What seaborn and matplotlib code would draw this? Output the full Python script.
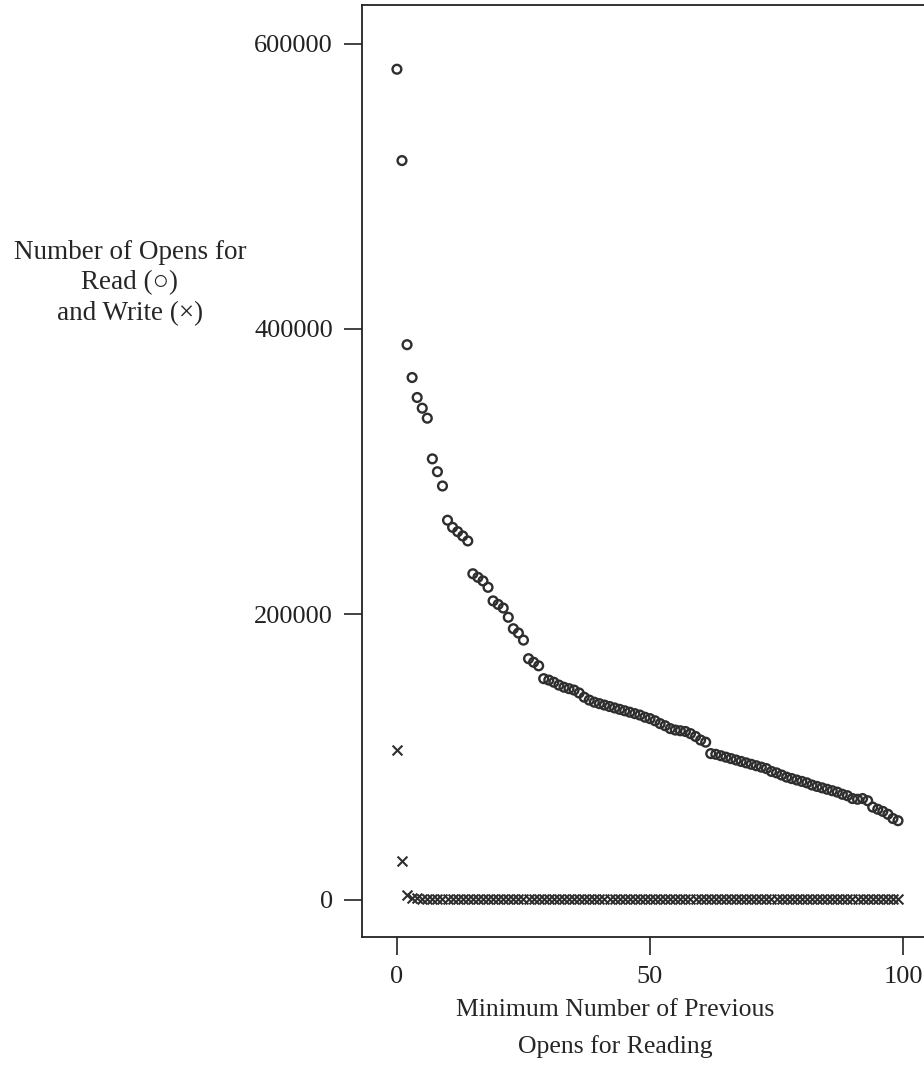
import matplotlib
matplotlib.use("Agg")
import matplotlib.pyplot as plt
import numpy as np
import pandas as pd
import seaborn as sns

# minimum number of previous opens (x)
min_prev_opens = list(range(100))

# opens for read (circles)
read_opens = [
    582000, 518000, 389000, 366000, 352000, 344500, 337500, 309000, 300000, 290000,
    266000, 261000, 258000, 255000, 251500, 228500, 226000, 223500, 219000, 209500,
    207000, 204500, 198000, 190000, 187000, 182000, 169000, 166500, 164000, 155000,
    154000, 152500, 150500, 149000, 148000, 147000, 145000, 142000, 140000, 138500,
    137500, 136500, 135500, 134500, 133500, 132500, 131500, 130500, 129500, 128000,
    127000, 125500, 123500, 122000, 120000, 119000, 118500, 118000, 116500, 114500,
    112000, 110500, 102500, 102000, 101000, 100000, 99000, 98000, 97000, 96000,
    95000, 94000, 93000, 92000, 90000, 89000, 87500, 86000, 85000, 84000,
    83000, 82000, 80500, 79500, 78500, 77500, 76500, 75500, 74000, 73000,
    71000, 70500, 71000, 69500, 65000, 63500, 62000, 60000, 57000, 55500,
]

# opens for write (crosses)
write_opens = [105000, 27000, 3500, 1500, 1000, 800] + [500] * 10 + [300] * 84

df = pd.DataFrame({"x": min_prev_opens, "read": read_opens, "write": write_opens})

sns.set_style("ticks")
plt.rcParams["font.family"] = ["Liberation Serif", "DejaVu Sans"]
plt.rcParams["font.size"] = 18

ink = "#2e2e2e"
fig = plt.figure(figsize=(9.24, 10.82), dpi=100)
ax = fig.add_axes([362 / 924, 145 / 1082, 576 / 924, 932 / 1082])

sns.scatterplot(data=df, x="x", y="read", marker="o", s=40,
                facecolors="none", edgecolor=ink, linewidth=1.7, ax=ax)
sns.scatterplot(data=df, x="x", y="write", marker="x", s=50,
                color=ink, linewidth=1.5, ax=ax)

ax.set_xlim(-6.9, 106.9)
ax.set_ylim(-26000, 627000)
ax.set_xticks([0, 50, 100])
ax.set_yticks([0, 200000, 400000, 600000])
ax.tick_params(direction="out", length=13, width=1.2, labelsize=19, pad=8, colors="#222222")
for sp in ax.spines.values():
    sp.set_linewidth(1.3)
    sp.set_color("#222222")

ax.set_xlabel("Minimum Number of Previous\nOpens for Reading", fontsize=18.5,
              linespacing=1.75, va="center")
ax.xaxis.set_label_coords(0.44, -0.098)
ax.set_ylabel("Number of Opens for\nRead (\u25cb)\nand Write (\u00d7)", fontsize=19.5,
              rotation=0, ha="center", va="center", multialignment="center",
              linespacing=1.3)
ax.yaxis.set_label_coords(-0.403, (937 - 283) / 932)

fig.savefig("out.png", dpi=100)
